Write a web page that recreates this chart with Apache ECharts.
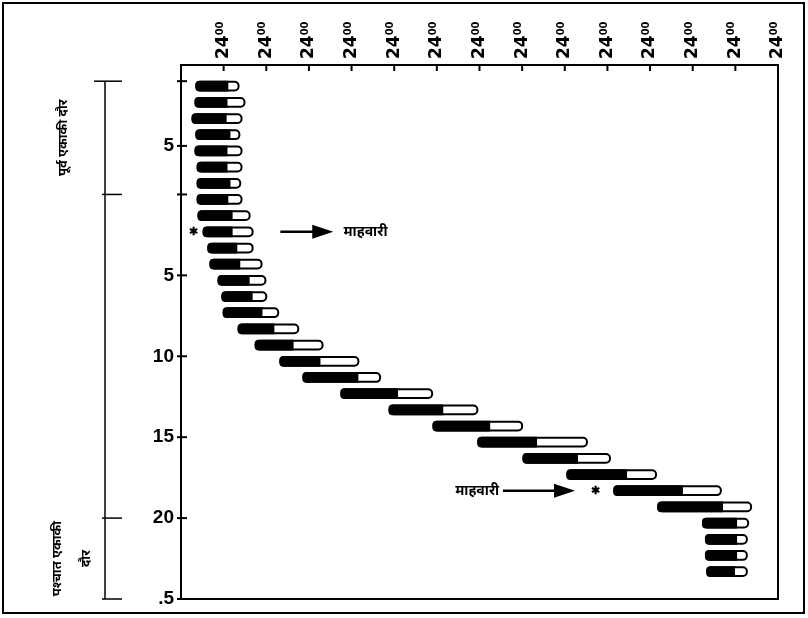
<!DOCTYPE html>
<html>
<head>
<meta charset="utf-8">
<script src="https://cdn.jsdelivr.net/npm/echarts@6/dist/echarts.min.js"></script>
<style>
  html, body { margin: 0; background: #fff; }
  #chart { width: 808px; height: 618px; }
</style>
</head>
<body>
<div id="chart"></div>
<script>
// one row per day, top to bottom
const rows = [0, 1, 2, 3, 4, 5, 6, 7, 8, 9, 10, 11, 12, 13, 14, 15, 16, 17, 18, 19, 20, 21, 22, 23, 24, 25, 26, 27, 28, 29, 30];
// activity (black) start, activity end / rest start, rest (white) end -- in axis units (1 unit = one 24h tick)
const darkStart = [0.36, 0.34, 0.27, 0.36, 0.34, 0.39, 0.39, 0.39, 0.41, 0.53, 0.64, 0.69, 0.88, 0.97, 1.00, 1.35, 1.75, 2.33, 2.87, 3.76, 4.89, 5.92, 6.97, 8.03, 9.06, 10.16, 11.19, 12.24, 12.31, 12.31, 12.34];
const darkEnd   = [1.11, 1.09, 1.07, 1.16, 1.09, 1.09, 1.16, 1.11, 1.21, 1.21, 1.32, 1.39, 1.61, 1.68, 1.91, 2.19, 2.64, 3.27, 4.16, 5.09, 6.15, 7.25, 8.35, 9.31, 10.46, 11.77, 12.71, 13.04, 13.04, 13.04, 12.99];
const lightEnd  = [1.35, 1.49, 1.42, 1.37, 1.42, 1.42, 1.39, 1.42, 1.61, 1.68, 1.68, 1.89, 1.98, 2.00, 2.28, 2.75, 3.32, 4.16, 4.67, 5.89, 6.95, 8.00, 9.52, 10.06, 11.14, 12.66, 13.37, 13.30, 13.27, 13.27, 13.27];

const xMax = 14;
const xTicks = [0, 1, 2, 3, 4, 5, 6, 7, 8, 9, 10, 11, 12, 13, 14];
const xTickLabel = '{n|24}{s|00}';
const yTickRows = [0, 4, 7, 12, 17, 22, 27, 32];
const yLabelRows = [4, 12, 17, 22, 27, 32];
const yLabels = ['5', '5', '10', '15', '20', '.5'];

// isolation phases (row spans) shown with the bracket on the left
const phaseStart = [0, 27];
const phaseEnd = [7, 32];
const phaseNames = ['पूर्व एकाकी दौर', 'पश्चात एकाकी\nदौर'];

// menstruation marks
const mensesRows = [9, 25];
const mensesStarX = [0.29, 9.71];
const mensesArrowFrom = [2.33, 7.55];
const mensesArrowTo = [3.57, 9.24];
const mensesLabelX = [3.81, 6.43];
const mensesLabel = 'माहवारी';

const BAR_H = 0.54;
const BAR_GAP = 0.04;

const chart = echarts.init(document.getElementById('chart'), null, { renderer: 'canvas' });

function renderBar(params, api) {
  const r = api.value(0);
  const a = api.coord([api.value(1), r]);
  const b = api.coord([api.value(2), r]);
  const c = api.coord([api.value(3), r]);
  const h = api.size([0, BAR_H])[1];
  const top = a[1] + api.size([0, BAR_GAP])[1];
  return {
    type: 'group',
    children: [
      { type: 'rect', shape: { x: a[0], y: top, width: c[0] - a[0], height: h, r: 4 },
        style: { fill: '#fff', stroke: '#000', lineWidth: 2 } },
      { type: 'rect', shape: { x: a[0] - 1, y: top - 1, width: b[0] - a[0] + 1, height: h + 2, r: [4, 0, 0, 4] },
        style: { fill: '#000' } }
    ]
  };
}

function renderMenses(params, api) {
  const r = api.value(0);
  const h = api.size([0, BAR_H])[1];
  const y = api.coord([0, r])[1] + api.size([0, BAR_GAP])[1] + h / 2;
  const star = api.coord([api.value(1), r])[0];
  const x1 = api.coord([api.value(2), r])[0];
  const x2 = api.coord([api.value(3), r])[0];
  const lx = api.coord([api.value(4), r])[0];
  return {
    type: 'group',
    children: [
      { type: 'text', x: star, y: y, style: { text: '✱', fontSize: 11, fontWeight: 'bold', fill: '#000', align: 'center', verticalAlign: 'middle' } },
      { type: 'line', shape: { x1: x1, y1: y, x2: x2 - 18, y2: y }, style: { stroke: '#000', lineWidth: 2.5 } },
      { type: 'polygon', shape: { points: [[x2 - 21, y - 7], [x2, y], [x2 - 21, y + 7]] }, style: { fill: '#000' } },
      { type: 'text', x: lx, y: y, style: { text: mensesLabel, fontSize: 14, fontWeight: 'bold', fontFamily: 'Noto Sans, sans-serif', fill: '#000', align: 'left', verticalAlign: 'middle' } }
    ]
  };
}

function renderPhase(params, api) {
  const y1 = api.coord([0, api.value(0)])[1];
  const y2 = api.coord([0, api.value(1)])[1];
  const i = params.dataIndex;
  const lineX = 105;
  const children = [
    { type: 'line', shape: { x1: i === 0 ? 94 : 102, y1: y1, x2: 122, y2: y1 }, style: { stroke: '#000', lineWidth: 1.5 } },
    { type: 'line', shape: { x1: 102, y1: y2, x2: 122, y2: y2 }, style: { stroke: '#000', lineWidth: 1.5 } },
    { type: 'text', x: i === 0 ? 63 : 72, y: (y1 + y2) / 2, rotation: Math.PI / 2,
      style: { text: phaseNames[i], fontSize: 13, fontWeight: 'bold', lineHeight: 29, fontFamily: 'Noto Sans, sans-serif',
               fill: '#000', align: 'center', verticalAlign: 'middle' } }
  ];
  if (i === 0) {
    const yEnd = api.coord([0, phaseEnd[phaseEnd.length - 1]])[1];
    children.push({ type: 'line', shape: { x1: lineX, y1: y1, x2: lineX, y2: yEnd }, style: { stroke: '#000', lineWidth: 1.5 } });
  }
  return { type: 'group', children: children };
}

// tick marks: short strokes hanging from the top frame, and crossing the left axis
function renderXTick(params, api) {
  const p = api.coord([api.value(0), api.value(1)]);
  return { type: 'line', shape: { x1: p[0], y1: p[1], x2: p[0], y2: p[1] + 6 }, style: { stroke: '#000', lineWidth: 2 } };
}
function renderYTick(params, api) {
  const p = api.coord([api.value(0), api.value(1)]);
  return { type: 'line', shape: { x1: p[0] - 4, y1: p[1], x2: p[0] + 6, y2: p[1] }, style: { stroke: '#000', lineWidth: 2 } };
}

const option = {
  backgroundColor: '#fff',
  animation: false,
  graphic: [
    { type: 'rect', shape: { x: 3, y: 3, width: 801, height: 610 }, style: { fill: 'none', stroke: '#000', lineWidth: 2 }, silent: true }
  ],
  grid: {
    left: 181, right: 30, top: 65, bottom: 19,
    show: true, borderColor: '#000', borderWidth: 2, backgroundColor: 'transparent'
  },
  xAxis: {
    type: 'value',
    position: 'top',
    min: 0, max: xMax, interval: 1,
    axisLine: { show: true, onZero: false, lineStyle: { color: '#000', width: 2 } },
    axisTick: { show: false },
    splitLine: { show: false },
    axisLabel: {
      rotate: -90, margin: 6, showMaxLabel: true,
      color: '#000', fontWeight: 'bold', fontFamily: 'DejaVu Sans',
      formatter: v => (v === 0 ? '' : xTickLabel),
      rich: {
        n: { fontSize: 17, fontWeight: 'bold', fontFamily: 'DejaVu Sans', color: '#000' },
        s: { fontSize: 10, fontWeight: 'bold', fontFamily: 'DejaVu Sans', color: '#000', verticalAlign: 'top' }
      }
    }
  },
  yAxis: {
    type: 'value',
    inverse: true,
    min: -1, max: 32,
    axisLine: { show: true, onZero: false, lineStyle: { color: '#000', width: 2 } },
    axisTick: { show: false },
    splitLine: { show: false },
    axisLabel: {
      customValues: yLabelRows, margin: 7,
      color: '#000', fontSize: 19, fontWeight: 'bold', fontFamily: 'Liberation Sans',
      formatter: v => yLabels[yLabelRows.indexOf(v)]
    }
  },
  series: [
    {
      name: 'activity',
      type: 'custom',
      renderItem: renderBar,
      encode: { x: [1, 2, 3], y: 0 },
      data: rows.map((r, i) => [r, darkStart[i], darkEnd[i], lightEnd[i]])
    },
    {
      name: 'menses',
      type: 'custom',
      renderItem: renderMenses,
      encode: { x: [1, 2, 3, 4], y: 0 },
      data: mensesRows.map((r, i) => [r, mensesStarX[i], mensesArrowFrom[i], mensesArrowTo[i], mensesLabelX[i]])
    },
    {
      name: 'phases',
      type: 'custom',
      clip: false,
      renderItem: renderPhase,
      encode: { y: [0, 1] },
      data: phaseStart.map((s, i) => [s, phaseEnd[i]])
    },
    {
      name: 'xTicks',
      type: 'custom',
      clip: false,
      renderItem: renderXTick,
      encode: { x: 0, y: 1 },
      data: xTicks.map(v => [v, -1])
    },
    {
      name: 'yTicks',
      type: 'custom',
      clip: false,
      renderItem: renderYTick,
      encode: { x: 0, y: 1 },
      data: yTickRows.map(r => [0, r])
    }
  ]
};

chart.setOption(option);
</script>
</body>
</html>
